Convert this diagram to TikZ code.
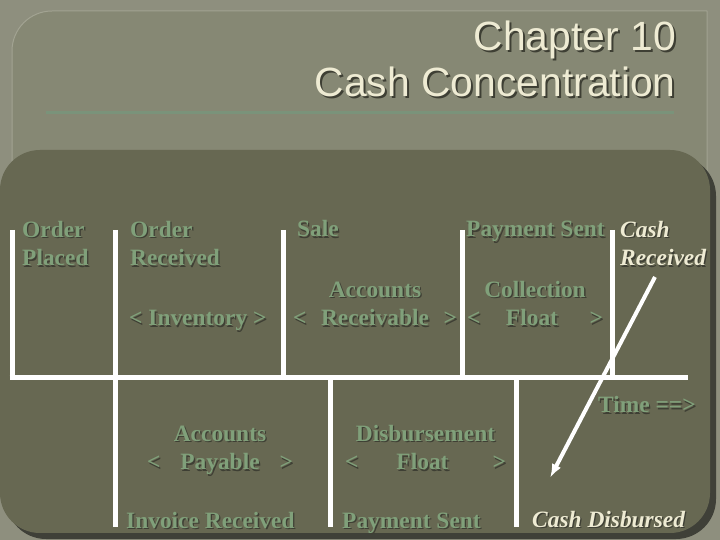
\documentclass[tikz,border=0pt]{standalone}
\usepackage{fontspec}
\setmainfont{Liberation Serif}
\newfontfamily\headfont{Liberation Sans}
\usetikzlibrary{arrows.meta}
\definecolor{backtex}{HTML}{8E8F7E}
\definecolor{outerpanel}{HTML}{868874}
\definecolor{outerrim}{HTML}{A2A392}
\definecolor{innerpanel}{HTML}{676852}
\definecolor{innershade}{HTML}{3F4038}
\definecolor{rulegreen}{HTML}{7A937A}
\definecolor{labelgreen}{HTML}{80A07A}
\definecolor{labelshade}{HTML}{3E3F34}
\definecolor{cream}{HTML}{EEEBD3}
\newcommand\emb[2][1.3pt]{\makebox[0pt][l]{\hspace{#1}\raisebox{-#1}{\color{labelshade}#2}}#2}
\begin{document}
\begin{tikzpicture}[>={Latex[length=14bp,width=10bp]},line join=bevel,
  lbl/.style={text=labelgreen,inner sep=0pt,font=\fontsize{23.5}{29}\selectfont\bfseries},
  cash/.style={text=cream,inner sep=0pt,font=\fontsize{23.5}{29}\selectfont\bfseries\itshape},
  tline/.style={white,line width=5bp}]
%%
\useasboundingbox (0bp,0bp) rectangle (720bp,540bp);
\fill [backtex] (0bp,0bp) rectangle (720bp,540bp);
\filldraw [fill=outerpanel,draw=outerrim,line width=1bp] (707bp,300bp) -- (707bp,529bp) -- (52bp,529bp)
  arc [start angle=90,end angle=180,radius=40bp] -- (12bp,300bp) -- cycle;
\fill [innershade,rounded corners=40bp] (6bp,1bp) rectangle (716bp,384bp);
\fill [innerpanel,rounded corners=40bp] (0bp,7bp) rectangle (710bp,390bp);
\draw [rulegreen,line width=3bp] (46bp,427bp) -- (674bp,427bp);
  \node (node_title) at (676bp,443bp) [anchor=base east,inner sep=0pt,align=right,text=cream,
    font=\headfont\fontsize{41}{47}\selectfont] {\emb[2bp]{Chapter 10}\\\emb[2bp]{Cash Concentration}};
%
  \node (node_placed) at (22bp,274bp) [lbl,anchor=base west,align=left] {\emb{Order}\\\emb{Placed}};
  \node (node_received) at (130bp,274bp) [lbl,anchor=base west,align=left] {\emb{Order}\\\emb{Received}};
  \node (node_sale) at (297bp,303bp) [lbl,anchor=base west] {\emb{Sale}};
  \node (node_sent) at (466bp,303bp) [lbl,anchor=base west] {\emb{Payment Sent}};
  \node (node_cashin) at (620bp,274bp) [cash,anchor=base west,align=left] {\emb{Cash}\\\emb{Received}};
  \node (node_inventory) at (129bp,214bp) [lbl,anchor=base west] {\emb{< Inventory >}};
  \node (node_receivable) at (375bp,214bp) [lbl,anchor=base,align=center]
    {\emb{Accounts}\\\emb{\makebox[164bp]{<\hfill Receivable\hfill>}}};
  \node (node_collection) at (535bp,214bp) [lbl,anchor=base,align=center]
    {\emb{Collection}\\\emb{\makebox[136bp]{<\hfill Float\hfill\hspace{6bp}>}}};
  \node (node_time) at (598bp,127bp) [lbl,anchor=base west] {\emb{Time ==>}};
  \node (node_payable) at (220bp,70bp) [lbl,anchor=base,align=center]
    {\emb{Accounts}\\\emb{\makebox[146bp]{<\hfill Payable\hfill>}}};
  \node (node_disbfloat) at (425.5bp,70bp) [lbl,anchor=base,align=center]
    {\emb{Disbursement}\\\emb{\makebox[161bp]{<\hfill Float\hfill\hspace{6bp}>}}};
  \node (node_invoice) at (126bp,12bp) [lbl,anchor=base west] {\emb{Invoice Received}};
  \node (node_paysent) at (342bp,12bp) [lbl,anchor=base west] {\emb{Payment Sent}};
  \node (node_cashout) at (532bp,13bp) [cash,anchor=base west] {\emb{Cash Disbursed}};
%
  \coordinate (mark_placed) at (12bp,310bp);
  \coordinate (mark_received) at (115bp,310bp);
  \coordinate (mark_sale) at (283bp,310bp);
  \coordinate (mark_sent) at (462bp,310bp);
  \coordinate (mark_cashin) at (612bp,310bp);
  \coordinate (axis_start) at (9.5bp,162bp);
  \coordinate (axis_end) at (688bp,162bp);
  \coordinate (mark_invoice) at (115bp,13bp);
  \coordinate (mark_paysent) at (330bp,13bp);
  \coordinate (mark_cashout) at (516bp,13bp);
  \coordinate (flow_tail) at (655bp,263bp);
  \coordinate (flow_head) at (550bp,62bp);
  \draw [tline] (mark_placed) -- (mark_placed |- axis_start);
  \draw [tline] (mark_received) -- (mark_invoice);
  \draw [tline] (mark_sale) -- (mark_sale |- axis_start);
  \draw [tline] (mark_sent) -- (mark_sent |- axis_start);
  \draw [tline] (mark_cashin) -- (mark_cashin |- axis_start);
  \draw [tline] (axis_start) -- (axis_end);
  \draw [tline] (mark_paysent |- axis_start) -- (mark_paysent);
  \draw [tline] (mark_cashout |- axis_start) -- (mark_cashout);
  \draw [white,line width=4bp,->] (flow_tail) -- (flow_head);
%
\end{tikzpicture}
\end{document}
